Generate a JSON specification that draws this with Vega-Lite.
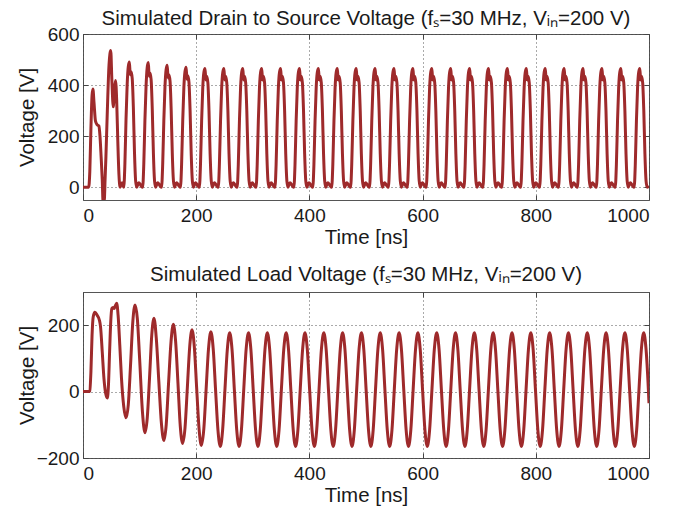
{
  "$schema": "https://vega.github.io/schema/vega-lite/v6.json",
  "padding": {"left": 16, "top": 8, "right": 0, "bottom": 0},
  "bounds": "flush",
  "spacing": 92,
  "config": {
    "font": "Liberation Sans",
    "view": {"stroke": "#555", "strokeWidth": 1},
    "axis": {
      "labelFont": "Liberation Sans", "labelFontSize": 19, "labelColor": "#1a1a1a",
      "titleFont": "Liberation Sans", "titleFontSize": 20.5, "titleFontWeight": "normal", "titleColor": "#1a1a1a",
      "domain": false, "tickColor": "#444", "tickSize": -5, "labelPadding": 11,
      "grid": true, "gridDash": [1, 3], "gridColor": "#444", "gridOpacity": 0.9, "gridWidth": 1
    },
    "axisY": {"labelPadding": 9},
    "title": {"font": "Liberation Sans", "fontSize": 20.5, "fontWeight": "normal", "color": "#1a1a1a", "frame": "group"}
  },
  "datasets": {
    "ds": [
      {"t":0,"v":0},{"t":10,"v":0},{"t":12,"v":60},{"t":14,"v":230},{"t":16,"v":360},{"t":17.5,"v":385},{"t":19.5,"v":330},{"t":22,"v":260},{"t":25,"v":245},{"t":28,"v":240},{"t":30,"v":200},{"t":32,"v":120},{"t":34,"v":30},{"t":35.5,"v":-60},{"t":36.5,"v":5},{"t":37.5,"v":-55},{"t":39,"v":30},{"t":40.5,"v":120},{"t":43,"v":300},{"t":46,"v":480},{"t":49,"v":535},{"t":51,"v":420},{"t":53.5,"v":315},{"t":55.5,"v":380},{"t":57.5,"v":418},{"t":59.5,"v":340},{"t":61.5,"v":180},{"t":63.5,"v":50},{"t":65.5,"v":0},{"t":69,"v":18},
      {"t":72,"v":0},{"t":74,"v":90},{"t":76,"v":265},{"t":78,"v":400},{"t":80,"v":472},{"t":82,"v":490},{"t":83.5,"v":440},{"t":85,"v":452},{"t":87,"v":425},{"t":89,"v":310},{"t":91,"v":135},{"t":93,"v":25},{"t":95,"v":0},{"t":98.5,"v":18},{"t":102.5,"v":6},
      {"t":105.4,"v":0},{"t":107.4,"v":90},{"t":109.4,"v":262},{"t":111.4,"v":395},{"t":113.4,"v":468},{"t":115.4,"v":488},{"t":116.9,"v":435},{"t":118.4,"v":447},{"t":120.4,"v":420},{"t":122.4,"v":305},{"t":124.4,"v":132},{"t":126.4,"v":25},{"t":128.4,"v":0},{"t":131.9,"v":18},{"t":135.9,"v":6},
      {"t":138.8,"v":0},{"t":140.8,"v":90},{"t":142.8,"v":260},{"t":144.8,"v":392},{"t":146.8,"v":460},{"t":148.8,"v":478},{"t":150.3,"v":428},{"t":151.8,"v":440},{"t":153.8,"v":415},{"t":155.8,"v":302},{"t":157.8,"v":130},{"t":159.8,"v":25},{"t":161.8,"v":0},{"t":165.3,"v":18},{"t":169.3,"v":6},
      {"t":172.2,"v":0},{"t":174.2,"v":90},{"t":176.2,"v":260},{"t":178.2,"v":390},{"t":180.2,"v":453},{"t":182.2,"v":470},{"t":183.7,"v":423},{"t":185.2,"v":437},{"t":187.2,"v":412},{"t":189.2,"v":300},{"t":191.2,"v":130},{"t":193.2,"v":25},{"t":195.2,"v":0},{"t":198.7,"v":18},{"t":202.7,"v":6},
      {"t":205.6,"v":0},{"t":207.6,"v":90},{"t":209.6,"v":260},{"t":211.6,"v":390},{"t":213.6,"v":450},{"t":215.6,"v":465},{"t":217.1,"v":420},{"t":218.6,"v":435},{"t":220.6,"v":410},{"t":222.6,"v":300},{"t":224.6,"v":130},{"t":226.6,"v":25},{"t":228.6,"v":0},{"t":232.1,"v":18},{"t":236.1,"v":6},
      {"t":239,"v":0},{"t":241,"v":90},{"t":243,"v":260},{"t":245,"v":390},{"t":247,"v":450},{"t":249,"v":465},{"t":250.5,"v":420},{"t":252,"v":435},{"t":254,"v":410},{"t":256,"v":300},{"t":258,"v":130},{"t":260,"v":25},{"t":262,"v":0},{"t":265.5,"v":18},{"t":269.5,"v":6},
      {"t":272.4,"v":0},{"t":274.4,"v":90},{"t":276.4,"v":260},{"t":278.4,"v":390},{"t":280.4,"v":450},{"t":282.4,"v":465},{"t":283.9,"v":420},{"t":285.4,"v":435},{"t":287.4,"v":410},{"t":289.4,"v":300},{"t":291.4,"v":130},{"t":293.4,"v":25},{"t":295.4,"v":0},{"t":298.9,"v":18},{"t":302.9,"v":6},
      {"t":305.8,"v":0},{"t":307.8,"v":90},{"t":309.8,"v":260},{"t":311.8,"v":390},{"t":313.8,"v":450},{"t":315.8,"v":465},{"t":317.3,"v":420},{"t":318.8,"v":435},{"t":320.8,"v":410},{"t":322.8,"v":300},{"t":324.8,"v":130},{"t":326.8,"v":25},{"t":328.8,"v":0},{"t":332.3,"v":18},{"t":336.3,"v":6},
      {"t":339.2,"v":0},{"t":341.2,"v":90},{"t":343.2,"v":260},{"t":345.2,"v":390},{"t":347.2,"v":450},{"t":349.2,"v":465},{"t":350.7,"v":420},{"t":352.2,"v":435},{"t":354.2,"v":410},{"t":356.2,"v":300},{"t":358.2,"v":130},{"t":360.2,"v":25},{"t":362.2,"v":0},{"t":365.7,"v":18},{"t":369.7,"v":6},
      {"t":372.6,"v":0},{"t":374.6,"v":90},{"t":376.6,"v":260},{"t":378.6,"v":390},{"t":380.6,"v":450},{"t":382.6,"v":465},{"t":384.1,"v":420},{"t":385.6,"v":435},{"t":387.6,"v":410},{"t":389.6,"v":300},{"t":391.6,"v":130},{"t":393.6,"v":25},{"t":395.6,"v":0},{"t":399.1,"v":18},{"t":403.1,"v":6},
      {"t":406,"v":0},{"t":408,"v":90},{"t":410,"v":260},{"t":412,"v":390},{"t":414,"v":450},{"t":416,"v":465},{"t":417.5,"v":420},{"t":419,"v":435},{"t":421,"v":410},{"t":423,"v":300},{"t":425,"v":130},{"t":427,"v":25},{"t":429,"v":0},{"t":432.5,"v":18},{"t":436.5,"v":6},
      {"t":439.4,"v":0},{"t":441.4,"v":90},{"t":443.4,"v":260},{"t":445.4,"v":390},{"t":447.4,"v":450},{"t":449.4,"v":465},{"t":450.9,"v":420},{"t":452.4,"v":435},{"t":454.4,"v":410},{"t":456.4,"v":300},{"t":458.4,"v":130},{"t":460.4,"v":25},{"t":462.4,"v":0},{"t":465.9,"v":18},{"t":469.9,"v":6},
      {"t":472.8,"v":0},{"t":474.8,"v":90},{"t":476.8,"v":260},{"t":478.8,"v":390},{"t":480.8,"v":450},{"t":482.8,"v":465},{"t":484.3,"v":420},{"t":485.8,"v":435},{"t":487.8,"v":410},{"t":489.8,"v":300},{"t":491.8,"v":130},{"t":493.8,"v":25},{"t":495.8,"v":0},{"t":499.3,"v":18},{"t":503.3,"v":6},
      {"t":506.2,"v":0},{"t":508.2,"v":90},{"t":510.2,"v":260},{"t":512.2,"v":390},{"t":514.2,"v":450},{"t":516.2,"v":465},{"t":517.7,"v":420},{"t":519.2,"v":435},{"t":521.2,"v":410},{"t":523.2,"v":300},{"t":525.2,"v":130},{"t":527.2,"v":25},{"t":529.2,"v":0},{"t":532.7,"v":18},{"t":536.7,"v":6},
      {"t":539.6,"v":0},{"t":541.6,"v":90},{"t":543.6,"v":260},{"t":545.6,"v":390},{"t":547.6,"v":450},{"t":549.6,"v":465},{"t":551.1,"v":420},{"t":552.6,"v":435},{"t":554.6,"v":410},{"t":556.6,"v":300},{"t":558.6,"v":130},{"t":560.6,"v":25},{"t":562.6,"v":0},{"t":566.1,"v":18},{"t":570.1,"v":6},
      {"t":573,"v":0},{"t":575,"v":90},{"t":577,"v":260},{"t":579,"v":390},{"t":581,"v":450},{"t":583,"v":465},{"t":584.5,"v":420},{"t":586,"v":435},{"t":588,"v":410},{"t":590,"v":300},{"t":592,"v":130},{"t":594,"v":25},{"t":596,"v":0},{"t":599.5,"v":18},{"t":603.5,"v":6},
      {"t":606.4,"v":0},{"t":608.4,"v":90},{"t":610.4,"v":260},{"t":612.4,"v":390},{"t":614.4,"v":450},{"t":616.4,"v":465},{"t":617.9,"v":420},{"t":619.4,"v":435},{"t":621.4,"v":410},{"t":623.4,"v":300},{"t":625.4,"v":130},{"t":627.4,"v":25},{"t":629.4,"v":0},{"t":632.9,"v":18},{"t":636.9,"v":6},
      {"t":639.8,"v":0},{"t":641.8,"v":90},{"t":643.8,"v":260},{"t":645.8,"v":390},{"t":647.8,"v":450},{"t":649.8,"v":465},{"t":651.3,"v":420},{"t":652.8,"v":435},{"t":654.8,"v":410},{"t":656.8,"v":300},{"t":658.8,"v":130},{"t":660.8,"v":25},{"t":662.8,"v":0},{"t":666.3,"v":18},{"t":670.3,"v":6},
      {"t":673.2,"v":0},{"t":675.2,"v":90},{"t":677.2,"v":260},{"t":679.2,"v":390},{"t":681.2,"v":450},{"t":683.2,"v":465},{"t":684.7,"v":420},{"t":686.2,"v":435},{"t":688.2,"v":410},{"t":690.2,"v":300},{"t":692.2,"v":130},{"t":694.2,"v":25},{"t":696.2,"v":0},{"t":699.7,"v":18},{"t":703.7,"v":6},
      {"t":706.6,"v":0},{"t":708.6,"v":90},{"t":710.6,"v":260},{"t":712.6,"v":390},{"t":714.6,"v":450},{"t":716.6,"v":465},{"t":718.1,"v":420},{"t":719.6,"v":435},{"t":721.6,"v":410},{"t":723.6,"v":300},{"t":725.6,"v":130},{"t":727.6,"v":25},{"t":729.6,"v":0},{"t":733.1,"v":18},{"t":737.1,"v":6},
      {"t":740,"v":0},{"t":742,"v":90},{"t":744,"v":260},{"t":746,"v":390},{"t":748,"v":450},{"t":750,"v":465},{"t":751.5,"v":420},{"t":753,"v":435},{"t":755,"v":410},{"t":757,"v":300},{"t":759,"v":130},{"t":761,"v":25},{"t":763,"v":0},{"t":766.5,"v":18},{"t":770.5,"v":6},
      {"t":773.4,"v":0},{"t":775.4,"v":90},{"t":777.4,"v":260},{"t":779.4,"v":390},{"t":781.4,"v":450},{"t":783.4,"v":465},{"t":784.9,"v":420},{"t":786.4,"v":435},{"t":788.4,"v":410},{"t":790.4,"v":300},{"t":792.4,"v":130},{"t":794.4,"v":25},{"t":796.4,"v":0},{"t":799.9,"v":18},{"t":803.9,"v":6},
      {"t":806.8,"v":0},{"t":808.8,"v":90},{"t":810.8,"v":260},{"t":812.8,"v":390},{"t":814.8,"v":450},{"t":816.8,"v":465},{"t":818.3,"v":420},{"t":819.8,"v":435},{"t":821.8,"v":410},{"t":823.8,"v":300},{"t":825.8,"v":130},{"t":827.8,"v":25},{"t":829.8,"v":0},{"t":833.3,"v":18},{"t":837.3,"v":6},
      {"t":840.2,"v":0},{"t":842.2,"v":90},{"t":844.2,"v":260},{"t":846.2,"v":390},{"t":848.2,"v":450},{"t":850.2,"v":465},{"t":851.7,"v":420},{"t":853.2,"v":435},{"t":855.2,"v":410},{"t":857.2,"v":300},{"t":859.2,"v":130},{"t":861.2,"v":25},{"t":863.2,"v":0},{"t":866.7,"v":18},{"t":870.7,"v":6},
      {"t":873.6,"v":0},{"t":875.6,"v":90},{"t":877.6,"v":260},{"t":879.6,"v":390},{"t":881.6,"v":450},{"t":883.6,"v":465},{"t":885.1,"v":420},{"t":886.6,"v":435},{"t":888.6,"v":410},{"t":890.6,"v":300},{"t":892.6,"v":130},{"t":894.6,"v":25},{"t":896.6,"v":0},{"t":900.1,"v":18},{"t":904.1,"v":6},
      {"t":907,"v":0},{"t":909,"v":90},{"t":911,"v":260},{"t":913,"v":390},{"t":915,"v":450},{"t":917,"v":465},{"t":918.5,"v":420},{"t":920,"v":435},{"t":922,"v":410},{"t":924,"v":300},{"t":926,"v":130},{"t":928,"v":25},{"t":930,"v":0},{"t":933.5,"v":18},{"t":937.5,"v":6},
      {"t":940.4,"v":0},{"t":942.4,"v":90},{"t":944.4,"v":260},{"t":946.4,"v":390},{"t":948.4,"v":450},{"t":950.4,"v":465},{"t":951.9,"v":420},{"t":953.4,"v":435},{"t":955.4,"v":410},{"t":957.4,"v":300},{"t":959.4,"v":130},{"t":961.4,"v":25},{"t":963.4,"v":0},{"t":966.9,"v":18},{"t":970.9,"v":6},
      {"t":973.8,"v":0},{"t":975.8,"v":90},{"t":977.8,"v":260},{"t":979.8,"v":390},{"t":981.8,"v":450},{"t":983.8,"v":465},{"t":985.3,"v":420},{"t":986.8,"v":435},{"t":988.8,"v":410},{"t":990.8,"v":300},{"t":992.8,"v":130},{"t":994.8,"v":25},{"t":996.8,"v":0},{"t":1000,"v":5}
    ],
    "load": [
      {"t":0,"v":0},{"t":10,"v":0},{"t":12,"v":2},{"t":14,"v":60},{"t":16,"v":170},{"t":18,"v":225},{"t":21,"v":239},{"t":25,"v":230},{"t":29,"v":215},{"t":31,"v":195},{"t":34,"v":120},{"t":37,"v":40},{"t":40,"v":-5},{"t":43,"v":-19},{"t":45,"v":20},{"t":47,"v":120},{"t":49,"v":210},{"t":51,"v":250},{"t":53,"v":253},{"t":55,"v":250},{"t":57,"v":258},{"t":59.5,"v":266},{"t":62,"v":230},{"t":65,"v":140},{"t":68,"v":40},{"t":72,"v":-45},{"t":76,"v":-79},{"t":80,"v":-40},{"t":84,"v":80},{"t":88,"v":210},{"t":92,"v":261},{"t":96,"v":220},{"t":100,"v":100},{"t":105,"v":-60},{"t":109.5,"v":-124},{"t":113.5,"v":-80},{"t":117.5,"v":40},{"t":121.5,"v":170},{"t":125.4,"v":221},{"t":129.5,"v":160},{"t":134,"v":30},{"t":138.5,"v":-95},{"t":143,"v":-147},{"t":147,"v":-100},{"t":151,"v":20},{"t":155.5,"v":150},{"t":159.6,"v":203},{"t":163.7,"v":150},{"t":167.8,"v":25},{"t":171.9,"v":-105},{"t":176,"v":-156},{"t":180.2,"v":-110},{"t":184.3,"v":10},{"t":188.5,"v":135},
      {"t":192.6,"v":186},{"t":196.8,"v":132},{"t":200.9,"v":8},{"t":205.1,"v":-113},{"t":209.2,"v":-162},{"t":213.4,"v":-114},{"t":217.5,"v":6},{"t":221.7,"v":128},
      {"t":225.9,"v":180},{"t":230.1,"v":128},{"t":234.2,"v":6},{"t":238.4,"v":-115},{"t":242.5,"v":-165},{"t":246.7,"v":-115},{"t":250.8,"v":6},{"t":255,"v":127},
      {"t":259.1,"v":177},{"t":263.3,"v":127},{"t":267.4,"v":6},{"t":271.6,"v":-115},{"t":275.7,"v":-165},{"t":279.9,"v":-115},{"t":284,"v":6},{"t":288.2,"v":127},
      {"t":292.4,"v":177},{"t":296.6,"v":127},{"t":300.7,"v":6},{"t":304.9,"v":-115},{"t":309,"v":-165},{"t":313.2,"v":-115},{"t":317.3,"v":6},{"t":321.5,"v":127},
      {"t":325.6,"v":177},{"t":329.8,"v":127},{"t":333.9,"v":6},{"t":338.1,"v":-115},{"t":342.2,"v":-165},{"t":346.4,"v":-115},{"t":350.5,"v":6},{"t":354.7,"v":127},
      {"t":358.9,"v":177},{"t":363.1,"v":127},{"t":367.2,"v":6},{"t":371.4,"v":-115},{"t":375.5,"v":-165},{"t":379.7,"v":-115},{"t":383.8,"v":6},{"t":388,"v":127},
      {"t":392.1,"v":177},{"t":396.3,"v":127},{"t":400.4,"v":6},{"t":404.6,"v":-115},{"t":408.7,"v":-165},{"t":412.9,"v":-115},{"t":417,"v":6},{"t":421.2,"v":127},
      {"t":425.4,"v":177},{"t":429.6,"v":127},{"t":433.7,"v":6},{"t":437.9,"v":-115},{"t":442,"v":-165},{"t":446.2,"v":-115},{"t":450.3,"v":6},{"t":454.5,"v":127},
      {"t":458.6,"v":177},{"t":462.8,"v":127},{"t":466.9,"v":6},{"t":471.1,"v":-115},{"t":475.2,"v":-165},{"t":479.4,"v":-115},{"t":483.5,"v":6},{"t":487.7,"v":127},
      {"t":491.9,"v":177},{"t":496.1,"v":127},{"t":500.2,"v":6},{"t":504.4,"v":-115},{"t":508.5,"v":-165},{"t":512.7,"v":-115},{"t":516.8,"v":6},{"t":521,"v":127},
      {"t":525.1,"v":177},{"t":529.3,"v":127},{"t":533.4,"v":6},{"t":537.6,"v":-115},{"t":541.7,"v":-165},{"t":545.9,"v":-115},{"t":550,"v":6},{"t":554.2,"v":127},
      {"t":558.4,"v":177},{"t":562.6,"v":127},{"t":566.7,"v":6},{"t":570.9,"v":-115},{"t":575,"v":-165},{"t":579.2,"v":-115},{"t":583.3,"v":6},{"t":587.5,"v":127},
      {"t":591.6,"v":177},{"t":595.8,"v":127},{"t":599.9,"v":6},{"t":604.1,"v":-115},{"t":608.2,"v":-165},{"t":612.4,"v":-115},{"t":616.5,"v":6},{"t":620.7,"v":127},
      {"t":624.9,"v":177},{"t":629.1,"v":127},{"t":633.2,"v":6},{"t":637.4,"v":-115},{"t":641.5,"v":-165},{"t":645.7,"v":-115},{"t":649.8,"v":6},{"t":654,"v":127},
      {"t":658.1,"v":177},{"t":662.3,"v":127},{"t":666.4,"v":6},{"t":670.6,"v":-115},{"t":674.7,"v":-165},{"t":678.9,"v":-115},{"t":683,"v":6},{"t":687.2,"v":127},
      {"t":691.4,"v":177},{"t":695.6,"v":127},{"t":699.7,"v":6},{"t":703.9,"v":-115},{"t":708,"v":-165},{"t":712.2,"v":-115},{"t":716.3,"v":6},{"t":720.5,"v":127},
      {"t":724.6,"v":177},{"t":728.8,"v":127},{"t":732.9,"v":6},{"t":737.1,"v":-115},{"t":741.2,"v":-165},{"t":745.4,"v":-115},{"t":749.5,"v":6},{"t":753.7,"v":127},
      {"t":757.9,"v":177},{"t":762.1,"v":127},{"t":766.2,"v":6},{"t":770.4,"v":-115},{"t":774.5,"v":-165},{"t":778.7,"v":-115},{"t":782.8,"v":6},{"t":787,"v":127},
      {"t":791.1,"v":177},{"t":795.3,"v":127},{"t":799.4,"v":6},{"t":803.6,"v":-115},{"t":807.7,"v":-165},{"t":811.9,"v":-115},{"t":816,"v":6},{"t":820.2,"v":127},
      {"t":824.4,"v":177},{"t":828.6,"v":127},{"t":832.7,"v":6},{"t":836.9,"v":-115},{"t":841,"v":-165},{"t":845.2,"v":-115},{"t":849.3,"v":6},{"t":853.5,"v":127},
      {"t":857.6,"v":177},{"t":861.8,"v":127},{"t":865.9,"v":6},{"t":870.1,"v":-115},{"t":874.2,"v":-165},{"t":878.4,"v":-115},{"t":882.5,"v":6},{"t":886.7,"v":127},
      {"t":890.9,"v":177},{"t":895.1,"v":127},{"t":899.2,"v":6},{"t":903.4,"v":-115},{"t":907.5,"v":-165},{"t":911.7,"v":-115},{"t":915.8,"v":6},{"t":920,"v":127},
      {"t":924.1,"v":177},{"t":928.3,"v":127},{"t":932.4,"v":6},{"t":936.6,"v":-115},{"t":940.7,"v":-165},{"t":944.9,"v":-115},{"t":949,"v":6},{"t":953.2,"v":127},
      {"t":957.4,"v":177},{"t":961.6,"v":127},{"t":965.7,"v":6},{"t":969.9,"v":-115},{"t":974,"v":-165},{"t":978.2,"v":-115},{"t":982.3,"v":6},{"t":986.5,"v":127},
      {"t":990.6,"v":177},{"t":994.8,"v":127},{"t":998.9,"v":6},{"t":1000,"v":-35}
    ],
    "corner": [{"t":0,"v":0}]
  },
  "vconcat": [
    {
      "title": {"text": "Simulated Drain to Source Voltage (fₛ=30 MHz, Vᵢₙ=200 V)", "offset": -4},
      "width": 566, "height": 166,
      "layer": [
        {
          "data": {"name": "ds"},
          "mark": {"type": "line", "interpolate": "monotone", "color": "#9e2a2b", "strokeWidth": 3, "clip": true},
          "encoding": {
            "x": {"field": "t", "type": "quantitative", "scale": {"domain": [0, 1000], "nice": false},
                  "axis": {"values": [0, 200, 400, 600, 800, 1000], "format": "d", "title": "Time [ns]", "titleBaseline": "middle", "titleY": 37}},
            "y": {"field": "v", "type": "quantitative", "scale": {"domain": [-50, 600], "nice": false, "zero": false},
                  "axis": {"values": [0, 200, 400, 600], "title": "Voltage [V]", "titleBaseline": "middle", "titleX": -56}}
          }
        },
        {
          "data": {"name": "corner"},
          "mark": {"type": "point", "opacity": 0},
          "encoding": {
            "x": {"field": "t", "type": "quantitative", "axis": {"orient": "top", "values": [0, 200, 400, 600, 800, 1000], "labels": false, "title": null, "grid": false}},
            "y": {"field": "v", "type": "quantitative", "axis": {"orient": "right", "values": [0, 200, 400, 600], "labels": false, "title": null, "grid": false}}
          }
        }
      ],
      "resolve": {"axis": {"x": "independent", "y": "independent"}}
    },
    {
      "title": {"text": "Simulated Load Voltage (fₛ=30 MHz, Vᵢₙ=200 V)", "offset": 6},
      "width": 566, "height": 166,
      "layer": [
        {
          "data": {"name": "load"},
          "mark": {"type": "line", "interpolate": "monotone", "color": "#9e2a2b", "strokeWidth": 3, "clip": true},
          "encoding": {
            "x": {"field": "t", "type": "quantitative", "scale": {"domain": [0, 1000], "nice": false},
                  "axis": {"values": [0, 200, 400, 600, 800, 1000], "format": "d", "title": "Time [ns]", "titleBaseline": "middle", "titleY": 37}},
            "y": {"field": "v", "type": "quantitative", "scale": {"domain": [-200, 300], "nice": false, "zero": false},
                  "axis": {"values": [-200, 0, 200], "title": "Voltage [V]", "titleBaseline": "middle", "titleX": -56}}
          }
        },
        {
          "data": {"name": "corner"},
          "mark": {"type": "point", "opacity": 0},
          "encoding": {
            "x": {"field": "t", "type": "quantitative", "axis": {"orient": "top", "values": [0, 200, 400, 600, 800, 1000], "labels": false, "title": null, "grid": false}},
            "y": {"field": "v", "type": "quantitative", "axis": {"orient": "right", "values": [-200, 0, 200], "labels": false, "title": null, "grid": false}}
          }
        }
      ],
      "resolve": {"axis": {"x": "independent", "y": "independent"}}
    }
  ]
}
